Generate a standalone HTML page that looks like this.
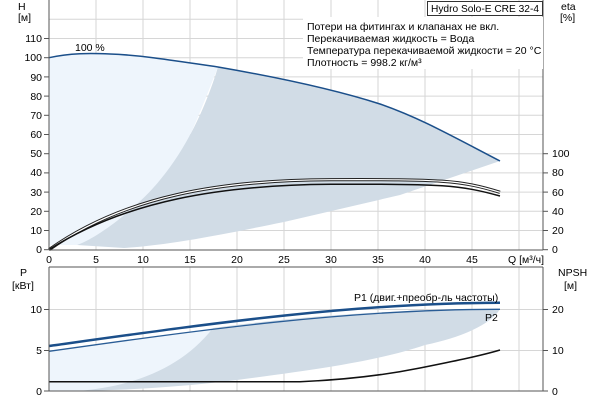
<!DOCTYPE html>
<html><head><meta charset="utf-8"><style>
html,body{margin:0;padding:0;background:#fff;}
svg{display:block;font-family:"Liberation Sans",sans-serif;font-size:10.5px;}
</style></head><body>
<svg width="600" height="400" viewBox="0 0 600 400" xmlns="http://www.w3.org/2000/svg">
<g stroke="#d6d6d6" stroke-width="1">
<line x1="96" y1="0" x2="96" y2="250"/><line x1="143" y1="0" x2="143" y2="250"/><line x1="190" y1="0" x2="190" y2="250"/><line x1="237" y1="0" x2="237" y2="250"/><line x1="284" y1="0" x2="284" y2="250"/><line x1="331" y1="0" x2="331" y2="250"/><line x1="378" y1="0" x2="378" y2="250"/><line x1="425" y1="0" x2="425" y2="250"/><line x1="472" y1="0" x2="472" y2="250"/><line x1="519" y1="0" x2="519" y2="250"/>
<line x1="49" y1="230.5" x2="543" y2="230.5"/><line x1="49" y1="211.3" x2="543" y2="211.3"/><line x1="49" y1="192.1" x2="543" y2="192.1"/><line x1="49" y1="172.9" x2="543" y2="172.9"/><line x1="49" y1="153.7" x2="543" y2="153.7"/><line x1="49" y1="134.5" x2="543" y2="134.5"/><line x1="49" y1="115.3" x2="543" y2="115.3"/><line x1="49" y1="96.1" x2="543" y2="96.1"/><line x1="49" y1="76.9" x2="543" y2="76.9"/><line x1="49" y1="57.7" x2="543" y2="57.7"/><line x1="49" y1="38.5" x2="543" y2="38.5"/><line x1="49" y1="19.3" x2="543" y2="19.3"/>
</g>
<path d="M49,57.7 C70,53 90,53 110,54 C140,55 170,60 218,67 C205,100 195,125 190,135 C175,175 140,205 120,220 C100,235 90,242 77,245 L49,245 Z" fill="#eef5fc"/>
<path d="M218,67 C270,76 330,88 380,104 C420,118 450,135 500,161 L400,195 L284,222 C220,235 170,245 124,248 L77,245 C100,237 140,205 160,180 C185,150 205,110 218,67 Z" fill="#d1dce6"/>
<path d="M49,57.7 C70,53 90,53 110,54 C140,55 170,60 218,67 C270,76 330,88 380,104 C420,118 450,135 500,161" fill="none" stroke="#1b4f8a" stroke-width="1.5"/>
<path d="M49,249.7 C125,196 220,180 331,179.7 S460,180 500,192.3" fill="none" stroke="#222" stroke-width="3.2"/>
<path d="M49,249.7 C125,196 220,180 331,179.7 S460,180 500,192.3" fill="none" stroke="#fff" stroke-width="1.2"/>
<path d="M49,249.7 C125,201 220,185 331,184.3 S460,185 500,196" fill="none" stroke="#111" stroke-width="1.5"/>
<text x="75" y="51" fill="#000">100 %</text>
<g stroke="#555" stroke-width="1" fill="none">
<line x1="49" y1="0" x2="49" y2="250"/><line x1="49" y1="250" x2="543" y2="250"/><line x1="543" y1="0" x2="543" y2="250"/>
</g>
<rect x="303" y="17" width="240" height="52" fill="#fff"/>
<rect x="427.5" y="1.5" width="115" height="14" fill="#fff" stroke="#333"/>
<text x="431" y="12" fill="#000" font-size="10" textLength="108" lengthAdjust="spacingAndGlyphs">Hydro Solo-E CRE 32-4</text>
<g fill="#000" font-size="10.5">
<text x="307" y="30">Потери на фитингах и клапанах не вкл.</text>
<text x="307" y="42">Перекачиваемая жидкость = Вода</text>
<text x="307" y="54">Температура перекачиваемой жидкости = 20 °C</text>
<text x="307" y="66">Плотность = 998.2 кг/м³</text>
</g>
<g fill="#000" text-anchor="end">
<text x="42" y="253">0</text><text x="42" y="234">10</text><text x="42" y="215">20</text><text x="42" y="196">30</text><text x="42" y="176">40</text><text x="42" y="157">50</text><text x="42" y="138">60</text><text x="42" y="119">70</text><text x="42" y="100">80</text><text x="42" y="81">90</text><text x="42" y="61">100</text><text x="42" y="42">110</text>
</g>
<g stroke="#555"><line x1="44" y1="249.7" x2="49" y2="249.7"/><line x1="44" y1="230.5" x2="49" y2="230.5"/><line x1="44" y1="211.3" x2="49" y2="211.3"/><line x1="44" y1="192.1" x2="49" y2="192.1"/><line x1="44" y1="172.9" x2="49" y2="172.9"/><line x1="44" y1="153.7" x2="49" y2="153.7"/><line x1="44" y1="134.5" x2="49" y2="134.5"/><line x1="44" y1="115.3" x2="49" y2="115.3"/><line x1="44" y1="96.1" x2="49" y2="96.1"/><line x1="44" y1="76.9" x2="49" y2="76.9"/><line x1="44" y1="57.7" x2="49" y2="57.7"/><line x1="44" y1="38.5" x2="49" y2="38.5"/>
<line x1="543" y1="249.7" x2="548" y2="249.7"/><line x1="543" y1="230.5" x2="548" y2="230.5"/><line x1="543" y1="211.3" x2="548" y2="211.3"/><line x1="543" y1="192.1" x2="548" y2="192.1"/><line x1="543" y1="172.9" x2="548" y2="172.9"/><line x1="543" y1="153.7" x2="548" y2="153.7"/></g>
<text x="18" y="10" fill="#000">H</text><text x="18" y="21" fill="#000">[м]</text>
<text x="561" y="10" fill="#000">eta</text><text x="560" y="21" fill="#000">[%]</text>
<g fill="#000"><text x="552" y="253">0</text><text x="552" y="234">20</text><text x="552" y="215">40</text><text x="552" y="196">60</text><text x="552" y="176">80</text><text x="552" y="157">100</text></g>
<g fill="#000" text-anchor="middle"><text x="49" y="263">0</text><text x="96" y="263">5</text><text x="143" y="263">10</text><text x="190" y="263">15</text><text x="237" y="263">20</text><text x="284" y="263">25</text><text x="331" y="263">30</text><text x="378" y="263">35</text><text x="425" y="263">40</text><text x="472" y="263">45</text></g>
<text x="508" y="263" fill="#000">Q [м³/ч]</text>

<g stroke="#d6d6d6"><line x1="96" y1="267" x2="96" y2="391"/><line x1="143" y1="267" x2="143" y2="391"/><line x1="190" y1="267" x2="190" y2="391"/><line x1="237" y1="267" x2="237" y2="391"/><line x1="284" y1="267" x2="284" y2="391"/><line x1="331" y1="267" x2="331" y2="391"/><line x1="378" y1="267" x2="378" y2="391"/><line x1="425" y1="267" x2="425" y2="391"/><line x1="472" y1="267" x2="472" y2="391"/><line x1="519" y1="267" x2="519" y2="391"/>
<line x1="49" y1="350.5" x2="543" y2="350.5"/><line x1="49" y1="309.5" x2="543" y2="309.5"/></g>
<path d="M49,351.3 C100,345 150,338 213,328 C200,350 180,375 130,387 L77,391 L49,391 Z" fill="#eef5fc"/>
<path d="M213,328 C300,316 400,309 500,309.3 C490,325 460,338 425,345 C380,360 330,368 237,380 C180,387 130,390 77,391 C130,387 180,370 213,328 Z" fill="#d1dce6"/>
<path d="M49,346 C200,325 350,303 500,302.7" fill="none" stroke="#1b4f8a" stroke-width="2.5"/>
<path d="M49,351.3 C200,330 350,309 500,309.3" fill="none" stroke="#2a5d96" stroke-width="1.3"/>
<path d="M49,381.7 L300,381.7 C340,380 380,376 420,368 C450,362 480,356 500,350" fill="none" stroke="#111" stroke-width="1.5"/>
<text x="354" y="301" fill="#000">P1 (двиг.+преобр-ль частоты)</text>
<text x="485" y="321" fill="#000">P2</text>
<g stroke="#555" fill="none"><line x1="49" y1="267" x2="543" y2="267"/><line x1="49" y1="267" x2="49" y2="391"/><line x1="49" y1="391" x2="543" y2="391"/><line x1="543" y1="267" x2="543" y2="391"/>
<line x1="44" y1="391" x2="49" y2="391"/><line x1="44" y1="350.5" x2="49" y2="350.5"/><line x1="44" y1="309.5" x2="49" y2="309.5"/><line x1="543" y1="391" x2="548" y2="391"/><line x1="543" y1="350.5" x2="548" y2="350.5"/><line x1="543" y1="309.5" x2="548" y2="309.5"/></g>
<text x="20" y="276" fill="#000">P</text><text x="12" y="289" fill="#000">[кВт]</text>
<text x="558" y="276" fill="#000">NPSH</text><text x="564" y="289" fill="#000">[м]</text>
<g fill="#000" text-anchor="end"><text x="42" y="395">0</text><text x="42" y="354">5</text><text x="42" y="313">10</text></g>
<g fill="#000"><text x="552" y="395">0</text><text x="552" y="354">10</text><text x="552" y="313">20</text></g>
</svg>
</body></html>
